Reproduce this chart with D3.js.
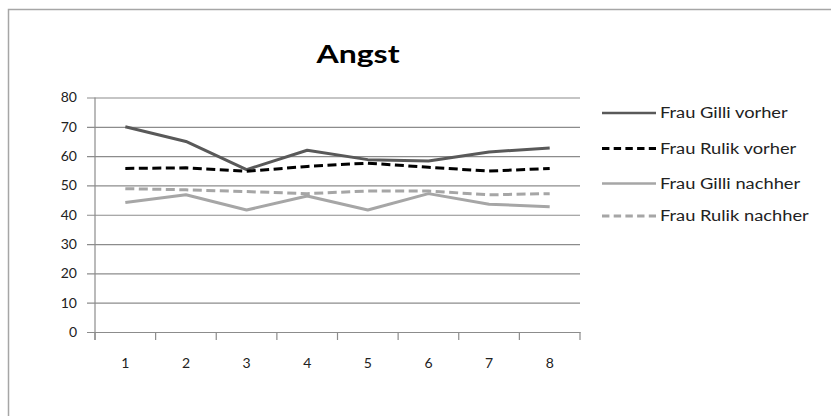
<!DOCTYPE html>
<html><head><meta charset="utf-8">
<script src="https://cdn.jsdelivr.net/npm/d3@7"></script>
<style>body{margin:0;background:#fff;} svg{display:block;}</style>
</head><body>
<svg id="c" width="831" height="416"></svg>
<script>
const categories = [1,2,3,4,5,6,7,8];
const gilliVorher  = [70, 65, 55.4, 62, 58.8, 58.3, 61.4, 62.8];
const rulikVorher  = [55.8, 56, 54.8, 56.5, 57.6, 56.2, 54.9, 55.8];
const gilliNachher = [44.2, 46.8, 41.6, 46.4, 41.6, 47.2, 43.6, 42.7];
const rulikNachher = [48.9, 48.5, 47.9, 47.2, 48.1, 48.1, 46.8, 47.2];
const yTicks = [0,10,20,30,40,50,60,70,80];
const seriesNames = ["Frau Gilli vorher","Frau Rulik vorher","Frau Gilli nachher","Frau Rulik nachher"];
const title = "Angst";

(function(){
const series = [
  {name: seriesNames[0], values: gilliVorher,  color:"#595959", dash:null},
  {name: seriesNames[1], values: rulikVorher,  color:"#000000", dash:"9,4.5"},
  {name: seriesNames[2], values: gilliNachher, color:"#a6a6a6", dash:null},
  {name: seriesNames[3], values: rulikNachher, color:"#a6a6a6", dash:"9,4.5"}
];

const svg = d3.select("#c");
const font = "Lato, 'Open Sans', sans-serif";

svg.append("rect").attr("x",8.5).attr("y",9.5).attr("width",840).attr("height",420)
  .attr("fill","none").attr("stroke","#a6a6a6").attr("stroke-width",1.5);

const pl=95, pr=580, pt=97.5, pb=332;
const x = d3.scaleBand().domain(categories).range([pl,pr]);
const y = d3.scaleLinear().domain([0,80]).range([pb,pt]);

const yAxis = d3.axisLeft(y).tickValues(yTicks).tickSize(-(pr-pl)).tickPadding(18);
const gy = svg.append("g").attr("transform",`translate(${pl},0)`).call(yAxis);
gy.select(".domain").remove();
gy.selectAll(".tick line").attr("stroke","#8c8c8c").attr("stroke-width",1.2).attr("x1",-8);
gy.selectAll(".tick text").attr("font-family",font).attr("font-size",14).attr("fill","#222");

svg.append("line").attr("x1",pl).attr("x2",pl).attr("y1",pt).attr("y2",pb+8)
  .attr("stroke","#8c8c8c").attr("stroke-width",1.2);

const xAxis = d3.axisBottom(x).tickSize(0).tickPadding(26);
const gx = svg.append("g").attr("transform",`translate(0,${pb})`).call(xAxis);
gx.select(".domain").attr("stroke","#8c8c8c").attr("stroke-width",1.2);
gx.selectAll(".tick text").attr("font-family",font).attr("font-size",14).attr("fill","#222");
const bounds = categories.map(c=>x(c)).concat([x(categories[categories.length-1])+x.bandwidth()]);
svg.append("g").selectAll("line").data(bounds).join("line")
  .attr("x1",d=>d).attr("x2",d=>d).attr("y1",pb).attr("y2",pb+8)
  .attr("stroke","#8c8c8c").attr("stroke-width",1.2);

const line = d3.line().x((d,i)=>x(categories[i])+x.bandwidth()/2).y(d=>y(d));
svg.append("g").selectAll("path").data(series).join("path")
  .attr("d",d=>line(d.values)).attr("fill","none")
  .attr("stroke",d=>d.color).attr("stroke-width",3)
  .attr("stroke-dasharray",d=>d.dash).attr("stroke-linejoin","round");

svg.append("g").attr("transform","translate(358,63) scale(1.28,1)")
  .append("text").attr("x",0).attr("y",0).attr("text-anchor","middle")
  .attr("font-family",font).attr("font-weight","bold").attr("font-size",25).attr("fill","#000").text(title);

const legendY = [113,148.5,183.5,216];
const lg = svg.append("g");
series.forEach((s,i)=>{
  lg.append("line").attr("x1",602).attr("x2",656).attr("y1",legendY[i]).attr("y2",legendY[i])
    .attr("stroke",s.color).attr("stroke-width",s.dash?3:2.5).attr("stroke-dasharray",s.dash?"7.4,4.3":null);
  lg.append("g").attr("transform",`translate(660,${legendY[i]}) scale(1.22,1)`)
    .append("text").attr("x",0).attr("y",0).attr("dy","0.35em")
    .attr("font-family",font).attr("font-size",15).attr("fill","#222").text(s.name);
});
})();
</script>
</body></html>
